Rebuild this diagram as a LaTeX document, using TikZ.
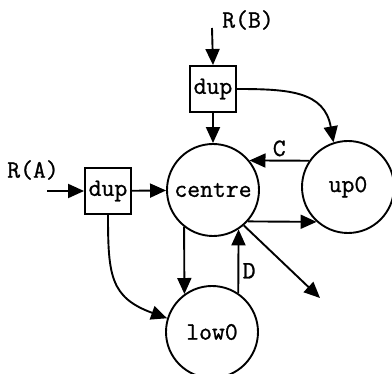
\documentclass[tikz,border=0pt]{standalone}
\usepackage{fontspec}
\newfontfamily\diagfont{Latin Modern Mono}[FakeBold=1.0]
\usepackage{tikz}
\usetikzlibrary{positioning, arrows.meta}

\begin{document}
\begin{tikzpicture}[x=1pt, y=-1pt,
    every node/.style={font=\diagfont\fontsize{25}{28}\selectfont},
    state/.style={draw, circle, line width=1.9pt, minimum size=92pt, inner sep=0pt},
    dupbox/.style={draw, rectangle, line width=1.9pt, minimum size=46pt, inner sep=0pt},
    arr/.style={line width=1.9pt, -{Triangle[length=16pt, width=14pt]}}]
    \useasboundingbox (0,0) rectangle (392,374);

    % States
    \node[state] (centre) at (213,190) {centre};
    \node[state] (up0) at (348,187) {up0};
    \node[state] (low0) at (212,332) {low0};

    % Duplicators
    \node[dupbox] (dupB) at (213,89) {dup};
    \node[dupbox] (dupA) at (108,191) {dup};

    % Inputs
    \coordinate (inB) at (212,28);
    \coordinate (inA) at (47,191);
    \coordinate (exit) at (320,298);
    \node (lblB) at (248,20) {R(B)};
    \node (lblA) at (33,170) {R(A)};

    % Straight connectors
    \foreach \a/\b in {inB/dupB.north, inA/dupA.west, dupB/centre, dupA/centre,
                       centre.232/low0.126, centre.-42/up0.228, centre.-49/exit} {
        \draw[arr] (\a) -- (\b);
    }

    % Labelled feedback
    \draw[arr] (up0.146) -- node[above] (lblC) {C} (centre.39);
    \draw[arr] (low0.56) -- node[right, pos=0.35] (lblD) {D} (centre.-57);

    % Curved connectors
    \draw[arr] (dupB.east) to[out=0, in=100, looseness=1.2] (up0.108);
    \draw[arr] (dupA.south) to[out=-90, in=160, looseness=1.3] (low0.163);
\end{tikzpicture}
\end{document}
